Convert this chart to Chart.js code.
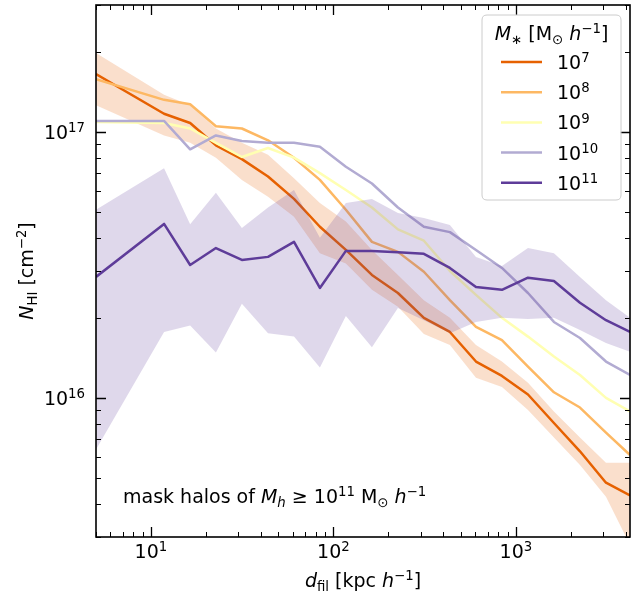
<!DOCTYPE html>
<html><head><meta charset="utf-8">
<script src="https://cdn.jsdelivr.net/npm/chart.js@4/dist/chart.umd.min.js"></script>
<style>html,body{margin:0;padding:0;background:#fff;}#wrap{width:641px;height:595px;}</style>
</head><body><div id="wrap"><canvas id="c" width="641" height="595"></canvas></div>
<script>
// ---- data ----
const distances = [5.0, 11.8, 16.4, 22.7, 31.5, 43.8, 60.8, 84.3, 117, 162.5, 225.6, 313, 434.6, 604, 838, 1164, 1615, 2243, 3114, 4217];
const nhiM7 = [1.65e17, 1.17e17, 1.08e17, 8.9e16, 7.9e16, 6.8e16, 5.6e16, 4.4e16, 3.6e16, 2.9e16, 2.48e16, 2.0e16, 1.77e16, 1.37e16, 1.21e16, 1.03e16, 8.05e15, 6.3e15, 4.8e15, 4.3e15];
const nhiM7Hi = [1.98e17, 1.38e17, 1.26e17, 1.03e17, 9.1e16, 8.2e16, 6.7e16, 5.4e16, 4.6e16, 3.6e16, 2.9e16, 2.33e16, 2.0e16, 1.58e16, 1.37e16, 1.14e16, 8.9e15, 7.1e15, 5.7e15, 5.7e15];
const nhiM7Lo = [1.26e17, 9.7e16, 9.1e16, 8.0e16, 6.6e16, 5.7e16, 4.8e16, 3.5e16, 3.2e16, 2.55e16, 2.2e16, 1.74e16, 1.58e16, 1.19e16, 1.10e16, 9.0e15, 7.1e15, 5.6e15, 4.25e15, 2.8e15];
const nhiM8 = [1.58e17, 1.32e17, 1.27e17, 1.05e17, 1.03e17, 9.3e16, 8.0e16, 6.6e16, 5.1e16, 3.86e16, 3.54e16, 2.98e16, 2.33e16, 1.85e16, 1.65e16, 1.31e16, 1.05e16, 9.2e15, 7.4e15, 6.1e15];
const nhiM9 = [1.09e17, 1.08e17, 1.03e17, 9.1e16, 8.05e16, 8.7e16, 8.0e16, 7.0e16, 6.05e16, 5.2e16, 4.3e16, 3.9e16, 3.0e16, 2.44e16, 2.0e16, 1.7e16, 1.43e16, 1.22e16, 1.0e16, 8.9e15];
const nhiM10 = [1.10e17, 1.10e17, 8.6e16, 9.7e16, 9.25e16, 9.1e16, 9.1e16, 8.8e16, 7.4e16, 6.4e16, 5.2e16, 4.4e16, 4.2e16, 3.6e16, 3.08e16, 2.48e16, 1.93e16, 1.68e16, 1.37e16, 1.22e16];
const nhiM11 = [2.85e16, 4.51e16, 3.16e16, 3.66e16, 3.30e16, 3.39e16, 3.86e16, 2.59e16, 3.57e16, 3.57e16, 3.53e16, 3.48e16, 3.08e16, 2.61e16, 2.55e16, 2.83e16, 2.75e16, 2.28e16, 1.96e16, 1.77e16];
const nhiM11Hi = [5.1e16, 7.3e16, 4.5e16, 5.9e16, 4.35e16, 5.2e16, 6.05e16, 4.0e16, 5.4e16, 5.6e16, 4.96e16, 4.75e16, 4.47e16, 3.39e16, 3.13e16, 3.66e16, 3.5e16, 2.85e16, 2.33e16, 2.0e16];
const nhiM11Lo = [6.4e15, 1.77e16, 1.87e16, 1.48e16, 2.26e16, 1.75e16, 1.7e16, 1.3e16, 2.03e16, 1.55e16, 2.18e16, 1.96e16, 1.75e16, 1.93e16, 2.0e16, 1.98e16, 2.0e16, 1.8e16, 1.61e16, 1.49e16];
const massExponents = ['7', '8', '9', '10', '11'];
const xTickValues = [10, 100, 1000];
const xTickExps = ['1', '2', '3'];
const yTickValues = [1e16, 1e17];
const yTickExps = ['16', '17'];

const colors = ['#e66101', '#fdb863', '#ffffb2', '#b2abd2', '#5e3c99'];
const FAM = '"DejaVu Sans", sans-serif';
const FS = 19;

const pts = arr => arr.map((v, i) => ({x: distances[i], y: v}));
const lineDs = (i, arr, order) => ({
  label: '10^' + massExponents[i], data: pts(arr), borderColor: colors[i], backgroundColor: colors[i],
  borderWidth: 2.5, pointRadius: 0, tension: 0, fill: false, order: order, isLine: true,
  borderJoinStyle: 'round', borderCapStyle: 'butt'
});
const bandDs = (arr, color, fill, order) => ({
  data: pts(arr), borderWidth: 0, borderColor: 'rgba(0,0,0,0)', backgroundColor: color,
  pointRadius: 0, tension: 0, fill: fill, order: order, isLine: false
});

function drawRich(ctx, segs, x, y, size, align) {
  const parts = segs.map(s => {
    const sz = (s.sup || s.sub) ? size * 0.7 : size;
    const font = (s.it ? 'italic ' : '') + sz + 'px ' + FAM;
    ctx.font = font;
    const w = ctx.measureText(s.t).width;
    const dy = s.sup ? -size * 0.36 : (s.sub ? size * 0.22 : 0);
    return {t: s.t, font, w, dy};
  });
  const total = parts.reduce((a, p) => a + p.w, 0);
  let cx = align === 'center' ? x - total / 2 : (align === 'right' ? x - total : x);
  ctx.textAlign = 'left'; ctx.textBaseline = 'alphabetic';
  for (const p of parts) { ctx.font = p.font; ctx.fillText(p.t, cx, y + p.dy); cx += p.w; }
  return total;
}

const decorPlugin = {
  id: 'decor',
  afterDraw(chart) {
    const ctx = chart.ctx, a = chart.chartArea;
    const xs = chart.scales.x, ys = chart.scales.y;
    ctx.save();
    ctx.fillStyle = '#000'; ctx.strokeStyle = '#000';
    // minor/major ticks (inward, all four sides)
    const tick = (isX, v, len, lw) => {
      ctx.lineWidth = lw; ctx.beginPath();
      if (isX) {
        const p = Math.round(xs.getPixelForValue(v)) + 0.5;
        ctx.moveTo(p, a.bottom); ctx.lineTo(p, a.bottom - len);
        ctx.moveTo(p, a.top); ctx.lineTo(p, a.top + len);
      } else {
        const p = Math.round(ys.getPixelForValue(v)) + 0.5;
        ctx.moveTo(a.left, p); ctx.lineTo(a.left + len, p);
        ctx.moveTo(a.right, p); ctx.lineTo(a.right - len, p);
      }
      ctx.stroke();
    };
    for (let e = 0; e <= 3; e++) for (let m = 1; m <= 9; m++) {
      const v = m * Math.pow(10, e);
      if (v < xs.min || v > xs.max) continue;
      tick(true, v, m === 1 ? 10 : 5, m === 1 ? 1.3 : 1);
    }
    for (let e = 15; e <= 17; e++) for (let m = 1; m <= 9; m++) {
      const v = m * Math.pow(10, e);
      if (v < ys.min * 0.999 || v > ys.max * 1.001) continue;
      tick(false, v, m === 1 ? 10 : 5, m === 1 ? 1.3 : 1);
    }
    // spines
    ctx.lineWidth = 1.6;
    ctx.strokeRect(a.left, a.top, a.right - a.left, a.bottom - a.top);
    // tick labels
    xTickValues.forEach((v, i) => {
      drawRich(ctx, [{t: '10'}, {t: xTickExps[i], sup: true}], xs.getPixelForValue(v), 558, FS, 'center');
    });
    yTickValues.forEach((v, i) => {
      drawRich(ctx, [{t: '10'}, {t: yTickExps[i], sup: true}], a.left - 11, ys.getPixelForValue(v) + 7, FS, 'right');
    });
    // axis titles
    drawRich(ctx, [{t: 'd', it: true}, {t: 'fil', sub: true}, {t: ' [kpc '}, {t: 'h', it: true}, {t: '\u22121', sup: true}, {t: ']'}],
      (a.left + a.right) / 2, 587, FS, 'center');
    ctx.save();
    ctx.translate(33, (a.top + a.bottom) / 2);
    ctx.rotate(-Math.PI / 2);
    drawRich(ctx, [{t: 'N', it: true}, {t: 'HI', sub: true}, {t: ' [cm'}, {t: '\u22122', sup: true}, {t: ']'}], 0, 0, FS, 'center');
    ctx.restore();
    // annotation
    drawRich(ctx, [{t: 'mask halos of '}, {t: 'M', it: true}, {t: 'h', it: true, sub: true}, {t: ' \u2265 10'}, {t: '11', sup: true},
      {t: ' M'}, {t: '\u2299', sub: true}, {t: ' '}, {t: 'h', it: true}, {t: '\u22121', sup: true}], 123, 503, FS, 'left');
    // legend
    const lx = 482, ly = 15, lw = 139, lh = 185, r = 5;
    ctx.beginPath();
    ctx.moveTo(lx + r, ly); ctx.lineTo(lx + lw - r, ly); ctx.quadraticCurveTo(lx + lw, ly, lx + lw, ly + r);
    ctx.lineTo(lx + lw, ly + lh - r); ctx.quadraticCurveTo(lx + lw, ly + lh, lx + lw - r, ly + lh);
    ctx.lineTo(lx + r, ly + lh); ctx.quadraticCurveTo(lx, ly + lh, lx, ly + lh - r);
    ctx.lineTo(lx, ly + r); ctx.quadraticCurveTo(lx, ly, lx + r, ly); ctx.closePath();
    ctx.fillStyle = 'rgba(255,255,255,0.8)'; ctx.fill();
    ctx.strokeStyle = '#cccccc'; ctx.lineWidth = 1; ctx.stroke();
    ctx.fillStyle = '#000';
    drawRich(ctx, [{t: 'M', it: true}, {t: '\u2217', sub: true}, {t: ' [M'}, {t: '\u2299', sub: true}, {t: ' '}, {t: 'h', it: true}, {t: '\u22121', sup: true}, {t: ']'}],
      lx + lw / 2, 40, FS, 'center');
    const lines = chart.data.datasets.filter(d => d.isLine);
    lines.forEach((d, i) => {
      const yy = 62 + i * 30.2;
      ctx.strokeStyle = d.borderColor; ctx.lineWidth = 2.5;
      ctx.beginPath(); ctx.moveTo(501, yy); ctx.lineTo(542, yy); ctx.stroke();
      ctx.fillStyle = '#000';
      drawRich(ctx, [{t: '10'}, {t: massExponents[i], sup: true}], 557, yy + 7, FS, 'left');
    });
    ctx.restore();
  }
};

new Chart(document.getElementById('c'), {
  type: 'line',
  data: {
    datasets: [
      bandDs(nhiM7Hi, 'rgba(0,0,0,0)', false, 10),
      bandDs(nhiM7Lo, 'rgba(230,97,1,0.2)', '-1', 10),
      lineDs(0, nhiM7, 9),
      lineDs(1, nhiM8, 8),
      lineDs(2, nhiM9, 7),
      lineDs(3, nhiM10, 6),
      bandDs(nhiM11Hi, 'rgba(0,0,0,0)', false, 5),
      bandDs(nhiM11Lo, 'rgba(94,60,153,0.2)', '-1', 5),
      lineDs(4, nhiM11, 4)
    ]
  },
  options: {
    responsive: false, animation: false, devicePixelRatio: 1,
    layout: {padding: {left: 0, right: 11, top: 5, bottom: 0}},
    plugins: {legend: {display: false}, tooltip: {enabled: false}, filler: {propagate: false}},
    scales: {
      x: {type: 'logarithmic', min: 5, max: 4217, grid: {display: false}, border: {display: false},
          ticks: {display: false}, afterFit: s => { s.height = 58; }},
      y: {type: 'logarithmic', min: 3e15, max: 3e17, grid: {display: false}, border: {display: false},
          ticks: {display: false}, afterFit: s => { s.width = 96; }}
    }
  },
  plugins: [decorPlugin]
});
</script></body></html>
